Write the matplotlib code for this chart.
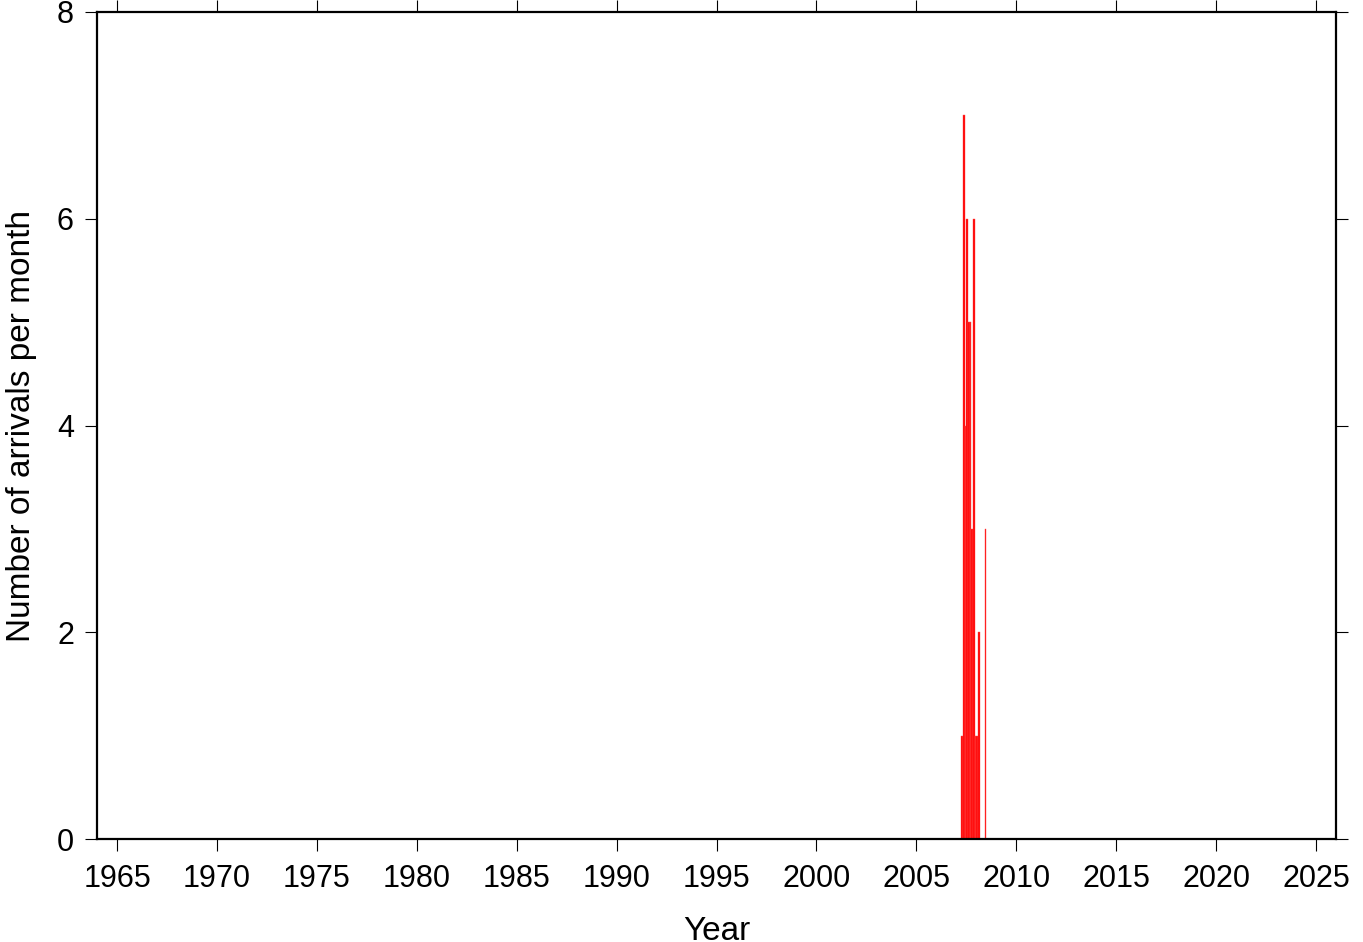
import numpy as np
import matplotlib.pyplot as plt

plt.rcParams['font.family'] = ['Liberation Sans', 'DejaVu Sans']

# monthly arrival counts (year-month, count)
months = ['2007-04', '2007-05', '2007-06', '2007-07', '2007-08', '2007-09',
          '2007-10', '2007-11', '2007-12', '2008-01', '2008-02', '2008-03',
          '2008-04', '2008-05', '2008-06']
counts = [1, 7, 4, 6, 5, 5, 3, 6, 1, 1, 2, 0, 0, 0, 3]

xticks = list(range(1965, 2030, 5))
yticks = [0, 2, 4, 6, 8]

x = np.array([int(m[:4]) + (int(m[5:]) - 1) / 12.0 for m in months])
y = np.array(counts)

fig = plt.figure(figsize=(13.63, 9.42), dpi=100)
ax = fig.add_axes([0.0712, 0.1093, 0.909, 0.878])

ax.bar(x, y, width=1/12., align='edge', color='#ff0000',
       edgecolor='#ff5050', linewidth=0.3)

ax.set_xlim(1964, 2026)
ax.set_ylim(0, 8)
ax.set_xticks(xticks)
ax.set_yticks(yticks)

for s in ax.spines.values():
    s.set_linewidth(1.6)
ax.tick_params(direction='out', length=8.6, width=0.8, labelsize=22,
               pad=8, top=True, right=True)
ax.tick_params(axis='x', pad=9.5)

ax.set_xlabel('Year', fontsize=24, labelpad=16)
ax.set_ylabel('Number of arrivals per month', fontsize=24, labelpad=14)

plt.savefig('out.png', dpi=100)
